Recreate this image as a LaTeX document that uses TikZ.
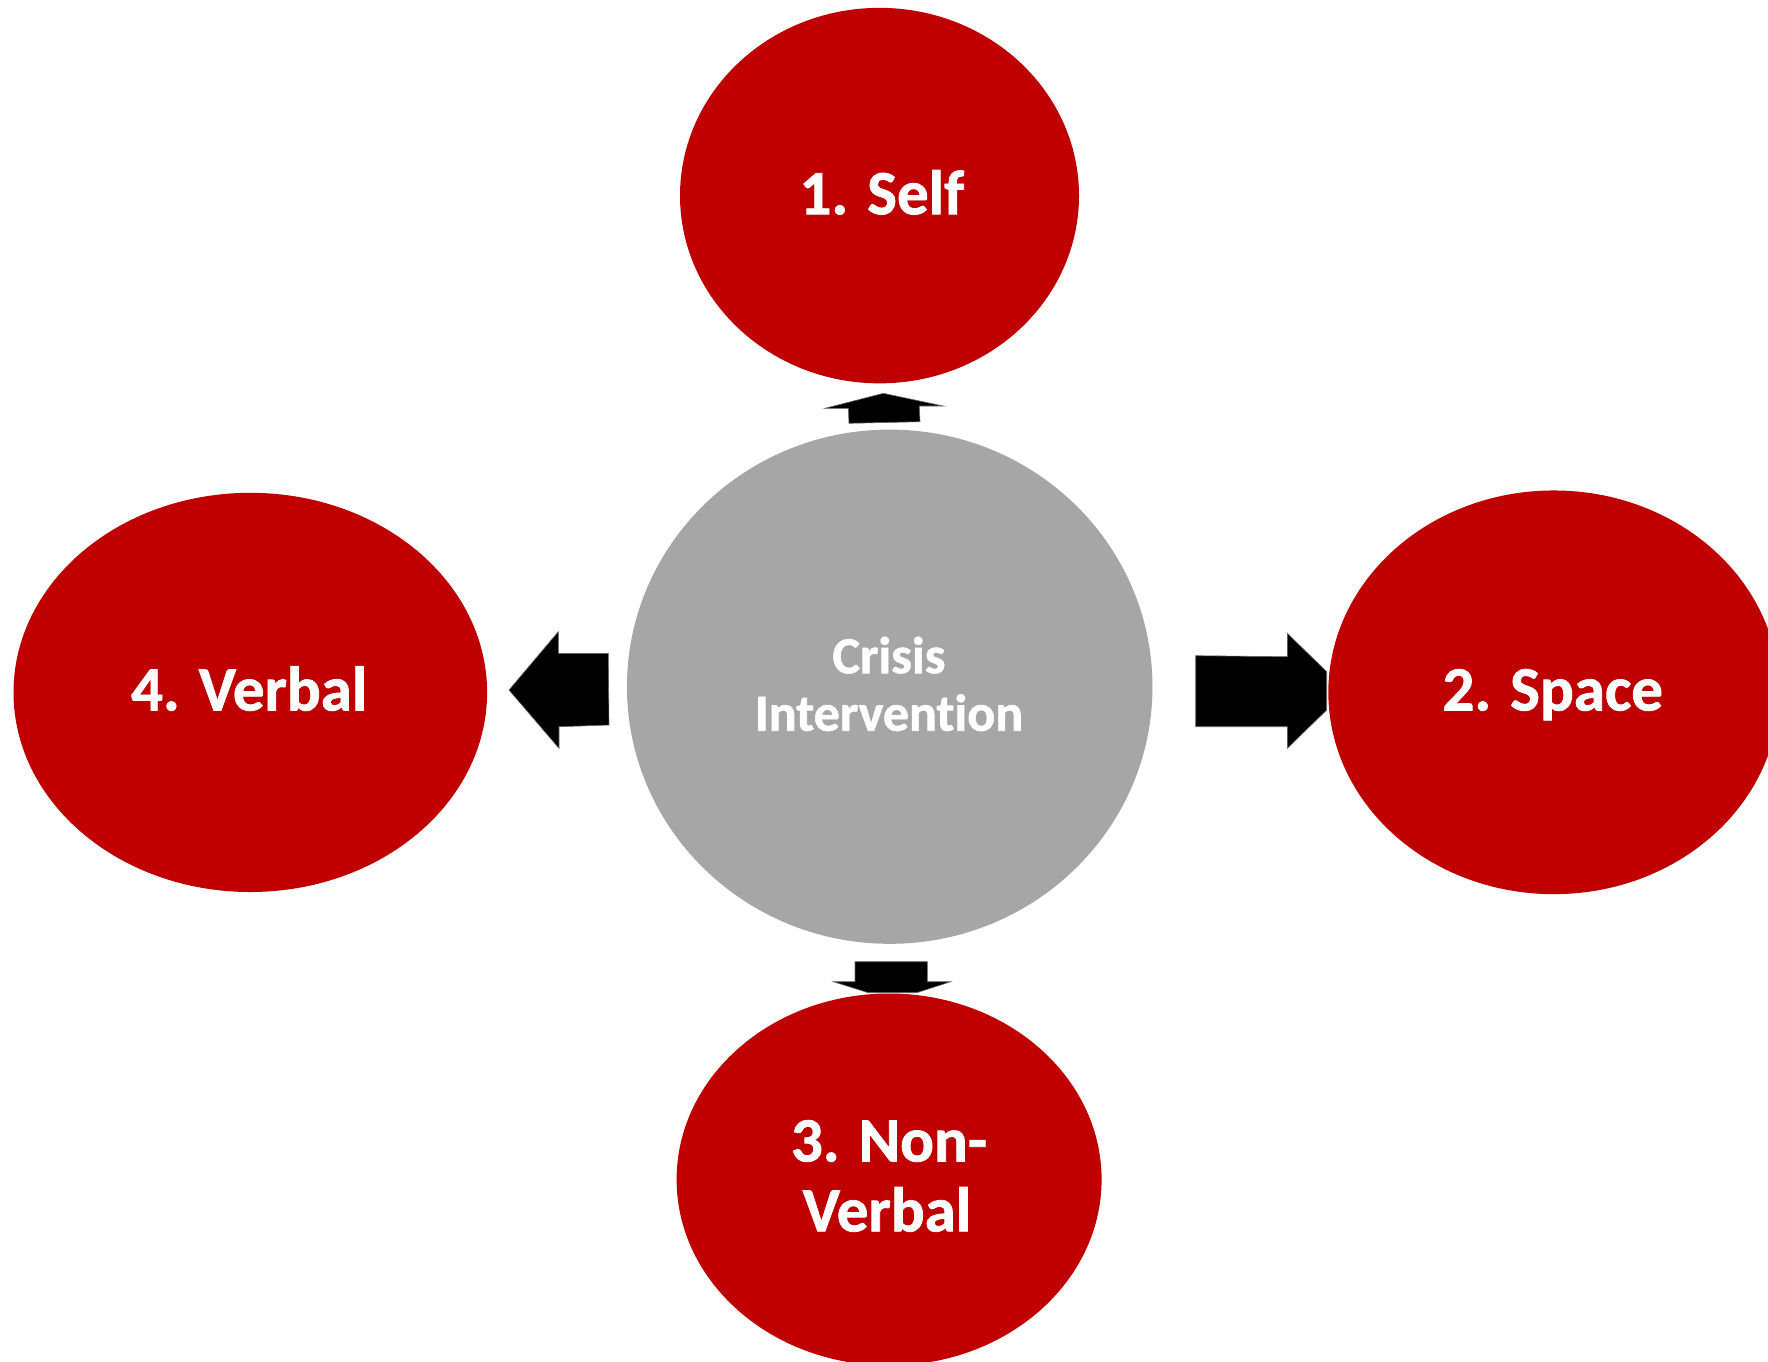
\documentclass[tikz,border=0pt]{standalone}
\usepackage{fontspec}
\newfontfamily\labelfont{Carlito Bold}[RawFeature={-liga;-calt;-dlig}, FakeBold=1.2]
\usetikzlibrary{shapes.geometric}
\definecolor{stepred}{HTML}{C00000}
\definecolor{hubgray}{HTML}{A6A6A6}
\begin{document}
\begin{tikzpicture}[x=1pt,y=-1pt,
  blob/.style={ellipse, inner sep=0pt, draw=none},
  redblob/.style={blob, fill=stepred},
  hub/.style={blob, fill=hubgray},
  lbl/.style={text=white, font=\labelfont\fontsize{63}{70}\selectfont, align=center, inner sep=0pt},
  hublbl/.style={text=white, font=\labelfont\fontsize{52}{57.5}\selectfont, align=center, inner sep=0pt},
  blockarrow/.style={fill=black, draw=black!60, line width=0.6pt, line join=miter}
]
\useasboundingbox (0,0) rectangle (1768,1361);
\clip (0,0) rectangle (1768,1361);

% block arrows pointing out from the hub
\draw[blockarrow] (883.3,393.3) -- (943.3,406) -- (919.3,406) -- (920,421.7)
  -- (849,423.3) -- (848.3,408.3) -- (825,408.3) -- cycle;
\draw[blockarrow] (855,961.7) -- (927.3,961.7) -- (927.3,981.7) -- (950.7,981.7)
  -- (916.7,992.7) -- (868.3,992.7) -- (833.3,981.7) -- (855,981.7) -- cycle;
\draw[blockarrow] (509,690) -- (558.3,631.7) -- (558.3,653.3) -- (608.3,653.3)
  -- (609,725) -- (559,726.7) -- (559,748.3) -- cycle;
\draw[blockarrow] (1195.7,655.7) -- (1287.3,656.7) -- (1287.3,633.3) -- (1326.7,671.7)
  -- (1326.7,710) -- (1287.3,748.3) -- (1287.3,726.7) -- (1195.7,726.7) -- cycle;

% circles
\node[hub, minimum width=525.5pt, minimum height=514.2pt] (hubnode) at (889.7,686.7) {};
\node[redblob, minimum width=399pt, minimum height=375.5pt] (self) at (879.5,195.6) {};
\node[redblob, minimum width=451pt, minimum height=403.7pt] (space) at (1553.8,692.3) {};
\node[redblob, minimum width=425pt, minimum height=372pt] (nonverbal) at (889.1,1179.5) {};
\node[redblob, minimum width=473.6pt, minimum height=399.2pt] (verbal) at (250.3,692.4) {};

% labels
\node[lbl, anchor=base] (tself) at (881.8,214.2) {1. Self};
\node[lbl, anchor=base] (tspace) at (1552.7,710.4) {2. Space};
\node[lbl, anchor=base] (tnon1) at (889,1161.4) {3. Non-};
\node[lbl, anchor=base] (tnon2) at (887,1231.3) {Verbal};
\node[lbl, anchor=base] (tverbal) at (249.2,710.4) {4. Verbal};
\node[hublbl, anchor=base] (thub1) at (889,673.2) {Crisis};
\node[hublbl, anchor=base] (thub2) at (889,730.7) {Intervent\kern0pt ion};
\end{tikzpicture}
\end{document}
